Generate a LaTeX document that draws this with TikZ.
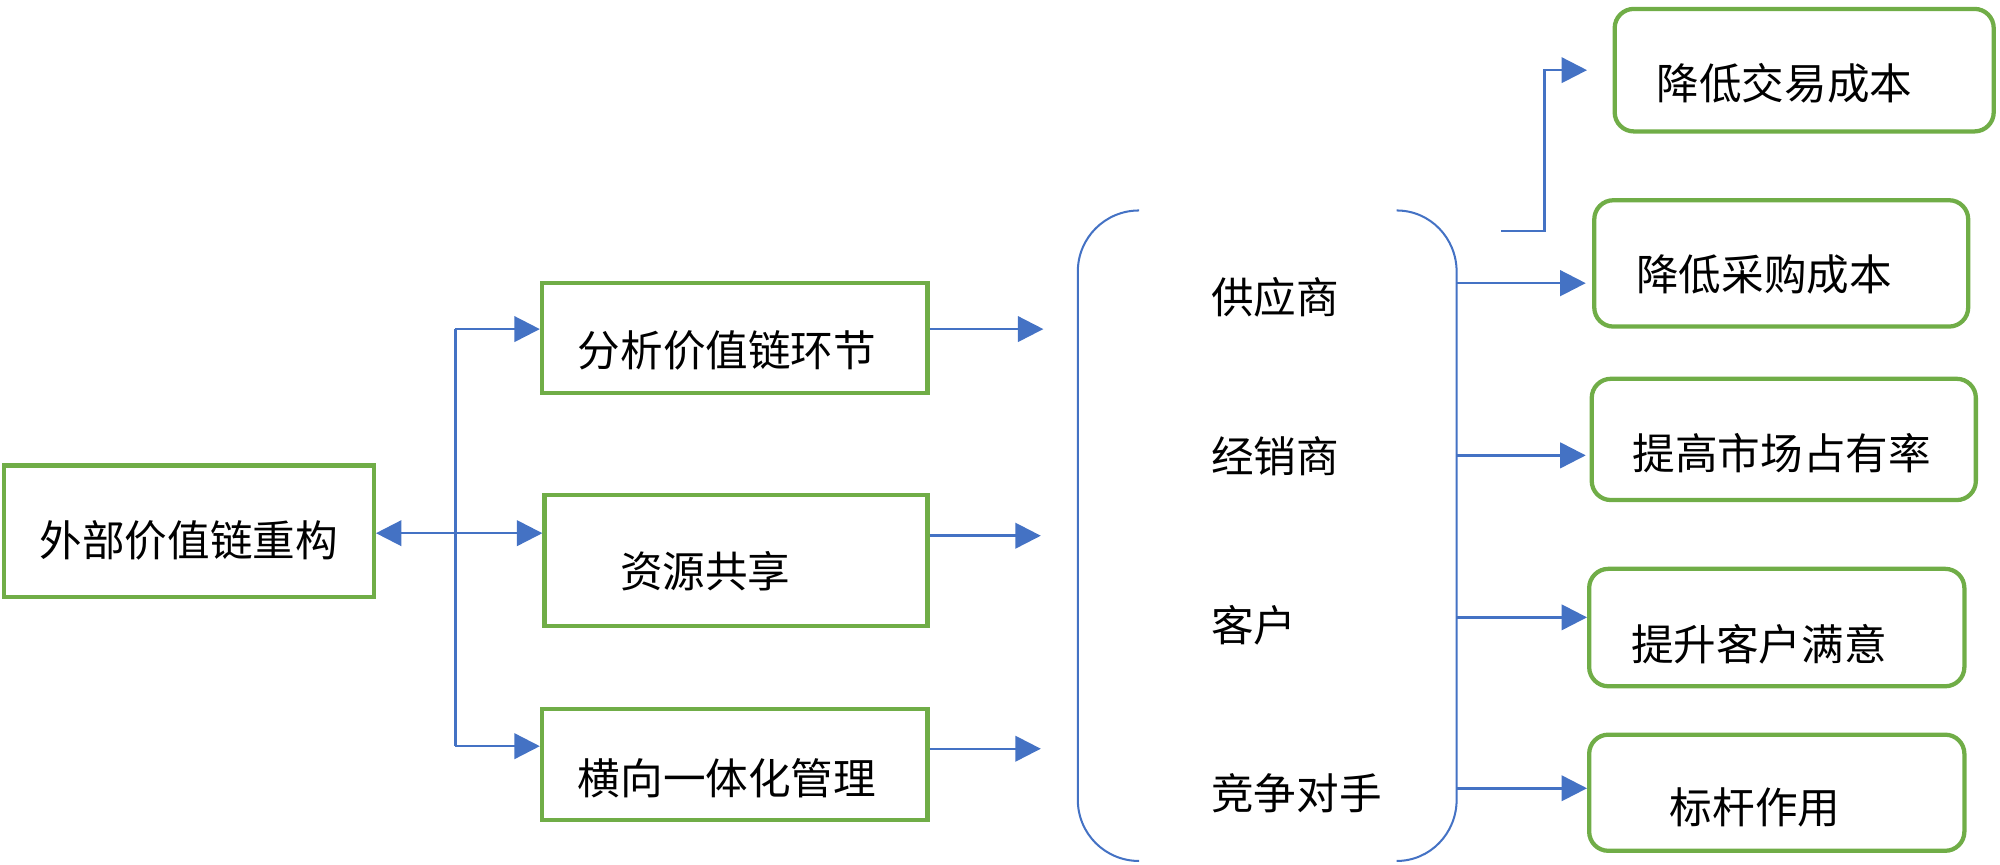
\documentclass[tikz,border=0pt]{standalone}
\usepackage{fontspec}
\setmainfont{Noto Sans CJK SC}
\usetikzlibrary{arrows.meta}
\definecolor{boxgreen}{HTML}{70AD47}
\definecolor{linkblue}{HTML}{4472C4}

\begin{document}
\begin{tikzpicture}[
			x=0.01cm, y=-0.01cm,
			every node/.style={font=\fontsize{9.5}{11}\selectfont},
			box/.style = {draw=boxgreen, line width=0.95pt, inner sep=0pt},
			goal/.style = {box, rounded corners=0.15cm},
			word/.style = {inner sep=0pt},
			link/.style = {draw=linkblue, line width=0.55pt},
			tip/.style = {link, -{Triangle[length=0.2cm, width=0.2cm]}},
			]
			\useasboundingbox (0,0) rectangle (1568,678);
			% left and middle boxes
			\node[box, minimum width=2.90cm, minimum height=1.03cm] (rebuild) at (148,416.5) {};
			\node[box, minimum width=3.02cm, minimum height=0.86cm] (analyse) at (576,265) {};
			\node[box, minimum width=3.00cm, minimum height=1.03cm] (share) at (577,439.5) {};
			\node[box, minimum width=3.02cm, minimum height=0.87cm] (integrate) at (576,599.5) {};
			\node[word] (rebuildtxt) at (148,424) {外部价值链重构};
			\node[word] (analysetxt) at (570,275) {分析价值链环节};
			\node[word] (sharetxt) at (553,448) {资源共享};
			\node[word] (integratetxt) at (570,610) {横向一体化管理};
			% right boxes
			\node[goal, minimum width=2.97cm, minimum height=0.96cm] (deal) at (1414.5,55) {};
			\node[goal, minimum width=2.93cm, minimum height=0.99cm] (buy) at (1396.5,206.5) {};
			\node[goal, minimum width=3.01cm, minimum height=0.95cm] (market) at (1398.5,344.5) {};
			\node[goal, minimum width=2.94cm, minimum height=0.92cm] (please) at (1393,492) {};
			\node[goal, minimum width=2.94cm, minimum height=0.91cm] (bench) at (1393,621.5) {};
			\node[word] (dealtxt) at (1399,65) {降低交易成本};
			\node[word] (buytxt) at (1383,215) {降低采购成本};
			\node[word] (markettxt) at (1397,355) {提高市场占有率};
			\node[word] (pleasetxt) at (1379,505) {提升客户满意};
			\node[word] (benchtxt) at (1376,633) {标杆作用};
			% partners between the brackets
			\node[word, anchor=west] (supplier) at (949,233) {供应商};
			\node[word, anchor=west] (dealer) at (949,358) {经销商};
			\node[word, anchor=west] (client) at (949,490) {客户};
			\node[word, anchor=west] (rival) at (949,622) {竞争对手};
			\draw[link, line width=0.45pt] (893,165) to[out=180, in=90] (845,213) -- (845,627) to[out=-90, in=180] (893,675);
			\draw[link, line width=0.45pt] (1095,165) to[out=0, in=90] (1142,213) -- (1142,627) to[out=-90, in=0] (1095,675);
			% fork on the left
			\coordinate (forktop) at (357,258);
			\coordinate (forkbot) at (357,585);
			\draw[link] (forktop) -- (forkbot);
			\draw[link, {Triangle[length=0.2cm, width=0.2cm]}-{Triangle[length=0.2cm, width=0.2cm]}] (rebuild.east |- 0,418) -- (share.west |- 0,418);
			\draw[tip] (forktop) -- (forktop -| analyse.west);
			\draw[tip] (forkbot) -- (forkbot -| integrate.west);
			\coordinate (in1) at (818,258);
			\coordinate (in2) at (816,420);
			\coordinate (in3) at (816,587);
			\draw[tip] (in1 -| analyse.east) -- (in1);
			\draw[tip] (in2 -| share.east) -- (in2);
			\draw[tip] (in3 -| integrate.east) -- (in3);
			% out of the right bracket
			\coordinate (out0) at (1177,181);
			\coordinate (out1) at (1142,222);
			\coordinate (out2) at (1142,357);
			\coordinate (out3) at (1142,484);
			\coordinate (out4) at (1142,618);
			\draw[tip, shorten >=0.2cm] (out0) -- (1211,181) |- (deal.west);
			\draw[tip, shorten >=0.05cm] (out1) -- (out1 -| buy.west);
			\draw[tip, shorten >=0.03cm] (out2) -- (out2 -| market.west);
			\draw[tip] (out3) -- (out3 -| please.west);
			\draw[tip] (out4) -- (out4 -| bench.west);
		\end{tikzpicture}
\end{document}
